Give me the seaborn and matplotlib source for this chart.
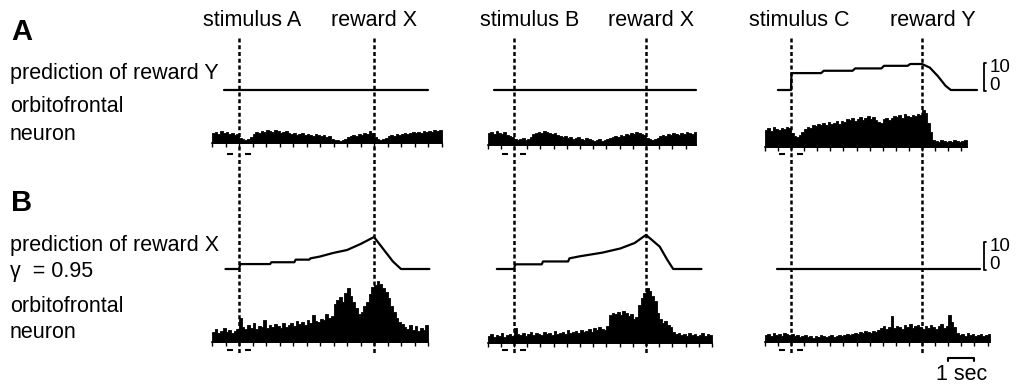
import numpy as np
import pandas as pd
import matplotlib
matplotlib.use("Agg")
import matplotlib.pyplot as plt
import seaborn as sns

# ---- data: time in s, stimulus onset at 0 ----
stim_time = 0.0
reward_time = 5.0
bin_width = 0.1
hist_start = -1.0

col_stimuli = ["stimulus A", "stimulus B", "stimulus C"]
col_rewards = ["reward X", "reward X", "reward Y"]

# A: prediction of reward Y (arbitrary units, scale bar = 10)
predA_t = [
    [-0.55, 7.0],
    [-0.75, 6.9],
    [-0.5, 0.0, 0.02, 1.15, 1.25, 2.35, 2.45, 3.45, 3.55, 4.45, 4.55, 5.0, 5.3, 5.6, 5.9, 6.1, 7.1],
]
predA_v = [
    [0, 0],
    [0, 0],
    [0, 0, 6.5, 6.5, 7.4, 7.4, 8.3, 8.3, 9.3, 9.3, 10.0, 10.0, 8.6, 5.4, 1.6, 0, 0],
]

# B: prediction of reward X, gamma = 0.95
predB_t = [
    [-0.5, 0.0, 0.05, 1.15, 1.2, 2.05, 2.1, 2.6, 2.65, 3.0, 3.5, 4.0, 4.5, 5.0, 5.7, 6.0, 7.05],
    [-0.65, 0.0, 0.05, 1.05, 1.1, 2.05, 2.1, 2.5, 3.35, 4.03, 4.57, 5.0, 5.52, 5.79, 6.03, 7.1],
    [-0.55, 7.2],
]
predB_v = [
    [0, 0, 1.9, 1.9, 2.6, 2.6, 3.6, 3.6, 4.1, 4.8, 6.2, 7.3, 9.6, 12.3, 2.9, 0, 0],
    [0, 0, 1.8, 1.8, 2.9, 2.9, 4.1, 4.9, 6.3, 7.9, 10.0, 13.1, 8.6, 3.8, 0, 0],
    [0, 0],
]

# orbitofrontal neuron histograms, 0.1 s bins from -1.0 s (impulses, arbitrary scale)
histA_1 = [10, 11, 9, 12, 10, 11, 9, 10, 8, 9,
           5, 4, 3, 4, 6,
           9, 11, 10, 12, 11, 13, 12, 11, 13, 12, 10, 11, 12,
           10, 9, 10, 8, 9, 10, 8, 9, 8, 7, 9, 8, 7, 8, 6, 7,
           4, 3, 3, 2, 3, 4,
           6, 7, 8, 7, 9, 8, 10, 9, 12, 10,
           6, 4, 3, 4, 5,
           7, 8, 7, 9, 8, 9, 10, 9, 10, 11, 10, 11, 10, 12, 11, 12, 11, 13, 12, 13]
histA_2 = [12, 13, 11, 14, 12, 11, 13, 10, 9, 8,
           6, 5, 6, 7, 5, 6, 8,
           11, 12, 13, 12, 14, 13, 12, 11, 12, 10, 9,
           8, 9, 7, 8, 6, 7, 8, 6, 5, 7, 6, 5, 4, 5, 6, 4, 5, 6, 7,
           8, 9, 8, 10, 9, 11, 10, 12, 11, 13, 12, 11, 10,
           7, 6, 5, 6, 7,
           9, 10, 9, 11, 10, 12, 11, 10, 12, 11, 13, 12, 11, 13]
histA_3 = [17, 19, 16, 20, 18, 17, 19, 18, 20, 19,
           14, 11, 10, 12,
           15, 18, 20, 19, 22, 21, 23, 22, 24, 22, 25, 23, 24, 26, 23,
           26, 25, 28, 27, 29, 26, 28, 30, 27, 29, 31, 28, 30, 27, 25, 24, 28, 29, 27,
           29, 31, 30, 32, 29, 33, 31, 30, 32, 31, 33, 32, 37,
           34, 24, 15,
           7, 6, 5, 7, 6, 5, 6, 5, 7, 6, 5, 6, 7]
histB_1 = [10, 13, 9, 11, 14, 10, 12, 9, 11, 13,
           24,
           15, 13, 17, 14, 19, 13, 16, 15, 22, 14, 17, 15, 18, 16, 14, 19, 15,
           17, 19, 16, 21, 18, 20, 17, 22, 19, 27, 21, 20, 23, 22, 28, 24, 26,
           38, 42, 45, 40, 49, 54, 46, 40,
           34, 28, 30, 36, 40,
           48, 55, 57, 61, 58, 54, 50, 44,
           36, 30, 24, 20,
           18, 15, 13, 17, 12, 16, 11, 14, 12, 17]
histB_2 = [7, 9, 6, 8, 7, 10, 6, 8, 9, 7,
           15,
           9, 8, 10, 7, 9, 11, 8, 10, 9, 8, 11, 9, 10, 8, 12, 9, 10, 11, 9, 13, 10, 11, 12, 10, 13, 11,
           12, 14, 11, 15, 13, 16, 14, 13, 17,
           28, 30, 29, 31, 28, 32, 30, 27, 29,
           24, 26,
           38, 45, 50, 55, 52, 47, 42,
           30, 24, 20, 22, 18, 16,
           11, 9, 10, 8, 9, 7, 10, 8, 9, 7, 8, 10, 7, 9, 8]
histB_3 = [7, 8, 6, 9, 7, 8, 6, 9, 8, 7,
           8, 6, 7, 5, 6, 7, 5, 6, 4, 6, 5, 7, 6, 5, 6, 7, 5, 6, 7, 6, 7, 8, 7,
           8, 9, 8, 10, 9, 11, 10, 9, 11, 10,
           12, 14, 16, 13, 15, 26, 14, 16, 15, 13, 17, 15, 18, 14, 16, 17, 15,
           13, 16, 14, 17, 15, 13, 16, 18, 14, 16, 27, 20, 15,
           9, 7, 8, 6, 9, 7, 8, 6, 7, 8, 6, 7, 8]

pred_t = [predA_t, predB_t]
pred_v = [predA_v, predB_v]
hists = [[histA_1, histA_2, histA_3], [histB_1, histB_2, histB_3]]

# ---- layout (pixels) ----
W, H = 1016, 385
sns.set_theme(style="white")
plt.rcParams["font.family"] = ["Liberation Sans", "DejaVu Sans"]
plt.rcParams["text.color"] = "black"
fig = plt.figure(figsize=(W / 100, H / 100), dpi=100)


def add_px_axes(left, top, width, height):
    ax = fig.add_axes([left / W, 1 - (top + height) / H, width / W, height / H])
    ax.patch.set_alpha(0)
    return ax


t0, t1 = -1.2, 7.9
stim_px = [239, 514, 791]
px_per_s = [27.0, 26.4, 26.2]
pred_base_px = [90, 269]
hist_base_px = [[143, 145, 147], [342, 343, 342]]
unit_px = 2.6
stim_shift = [0.5, 0.6, 0.3]
reward_shift = [0.0, 0.2, 0.4]
fs = 15.5
dots = (0, (1.6, 1.1))

for c in range(3):
    k = px_per_s[c]
    left = stim_px[c] + t0 * k
    width = (t1 - t0) * k

    ov = add_px_axes(left, 0, width, H)
    ov.set_xlim(t0, t1)
    ov.set_ylim(H, 0)
    ov.set_axis_off()
    ov.vlines([stim_time, reward_time], 38, 355, colors="black",
              linestyles=dots, linewidth=1.8)
    ov.text(stim_time + stim_shift[c], 20, col_stimuli[c], ha="center",
            va="center", fontsize=fs)
    ov.text(reward_time + reward_shift[c], 20, col_rewards[c], ha="center",
            va="center", fontsize=fs)
    for y in (154, 350):
        ov.hlines([y, y], [stim_time - 0.45, stim_time + 0.22],
                  [stim_time - 0.22, stim_time + 0.45], colors="black", linewidth=1.5)

    for r in range(2):
        base = pred_base_px[r]
        ax = add_px_axes(left, base - 14 * unit_px, width, 16 * unit_px)
        sns.lineplot(x=pred_t[r][c], y=pred_v[r][c], estimator=None, sort=False,
                     color="black", linewidth=1.6, ax=ax)
        ax.set_xlim(t0, t1)
        ax.set_ylim(-2, 14)
        ax.set_axis_off()
        if c == 2:
            xb = 7.35
            ax.plot([xb + 0.1, xb, xb, xb + 0.1], [10.5, 10.5, -0.5, -0.5],
                    color="black", linewidth=1.3, clip_on=False)
            ax.text(xb + 0.22, 8.8, "10", ha="left", va="center", fontsize=13.5)
            ax.text(xb + 0.22, 1.6, "0", ha="left", va="center", fontsize=13.5)

        vals = hists[r][c]
        n = len(vals)
        centers = hist_start + bin_width * (np.arange(n) + 0.5)
        hend = hist_start + bin_width * n
        df = pd.DataFrame({"t": centers, "rate": vals})
        hb = hist_base_px[r][c]
        hx = add_px_axes(left, hb - 70, width, 70)
        sns.histplot(data=df, x="t", weights="rate", binwidth=bin_width,
                     binrange=(hist_start, hend), element="step", fill=True,
                     color="black", alpha=1, linewidth=0.6, ax=hx)
        hx.set_xlim(t0, t1)
        hx.set_ylim(0, 70)
        for s in ("top", "right", "left"):
            hx.spines[s].set_visible(False)
        hx.spines["bottom"].set_bounds(hist_start, hend)
        hx.spines["bottom"].set_linewidth(1.2)
        hx.spines["bottom"].set_color("black")
        hx.set_xticks(np.arange(hist_start, hend + 0.01, 0.5))
        hx.set_yticks([])
        hx.tick_params(axis="x", bottom=True, length=3, width=1, direction="out",
                       color="black", labelbottom=False)
        hx.set_xlabel("")
        hx.set_ylabel("")

    if c == 2:
        ov.plot([6.0, 6.0, 7.0, 7.0], [361, 358, 358, 361], color="black",
                linewidth=1.5)
        ov.text(6.5, 375, "1 sec", ha="center", va="center", fontsize=fs)

# row labels
labels = [("prediction of reward Y", 73), ("orbitofrontal", 107), ("neuron", 134),
          ("prediction of reward X", 246), ("γ  = 0.95", 272),
          ("orbitofrontal", 307), ("neuron", 333)]
for txt, y in labels:
    fig.text(10 / W, 1 - y / H, txt, ha="left", va="center", fontsize=fs)
fig.text(11 / W, 1 - 32 / H, "A", ha="left", va="center", fontsize=21,
         fontweight="bold")
fig.text(11 / W, 1 - 203 / H, "B", ha="left", va="center", fontsize=21,
         fontweight="bold")

fig.savefig("out.png", dpi=100)
